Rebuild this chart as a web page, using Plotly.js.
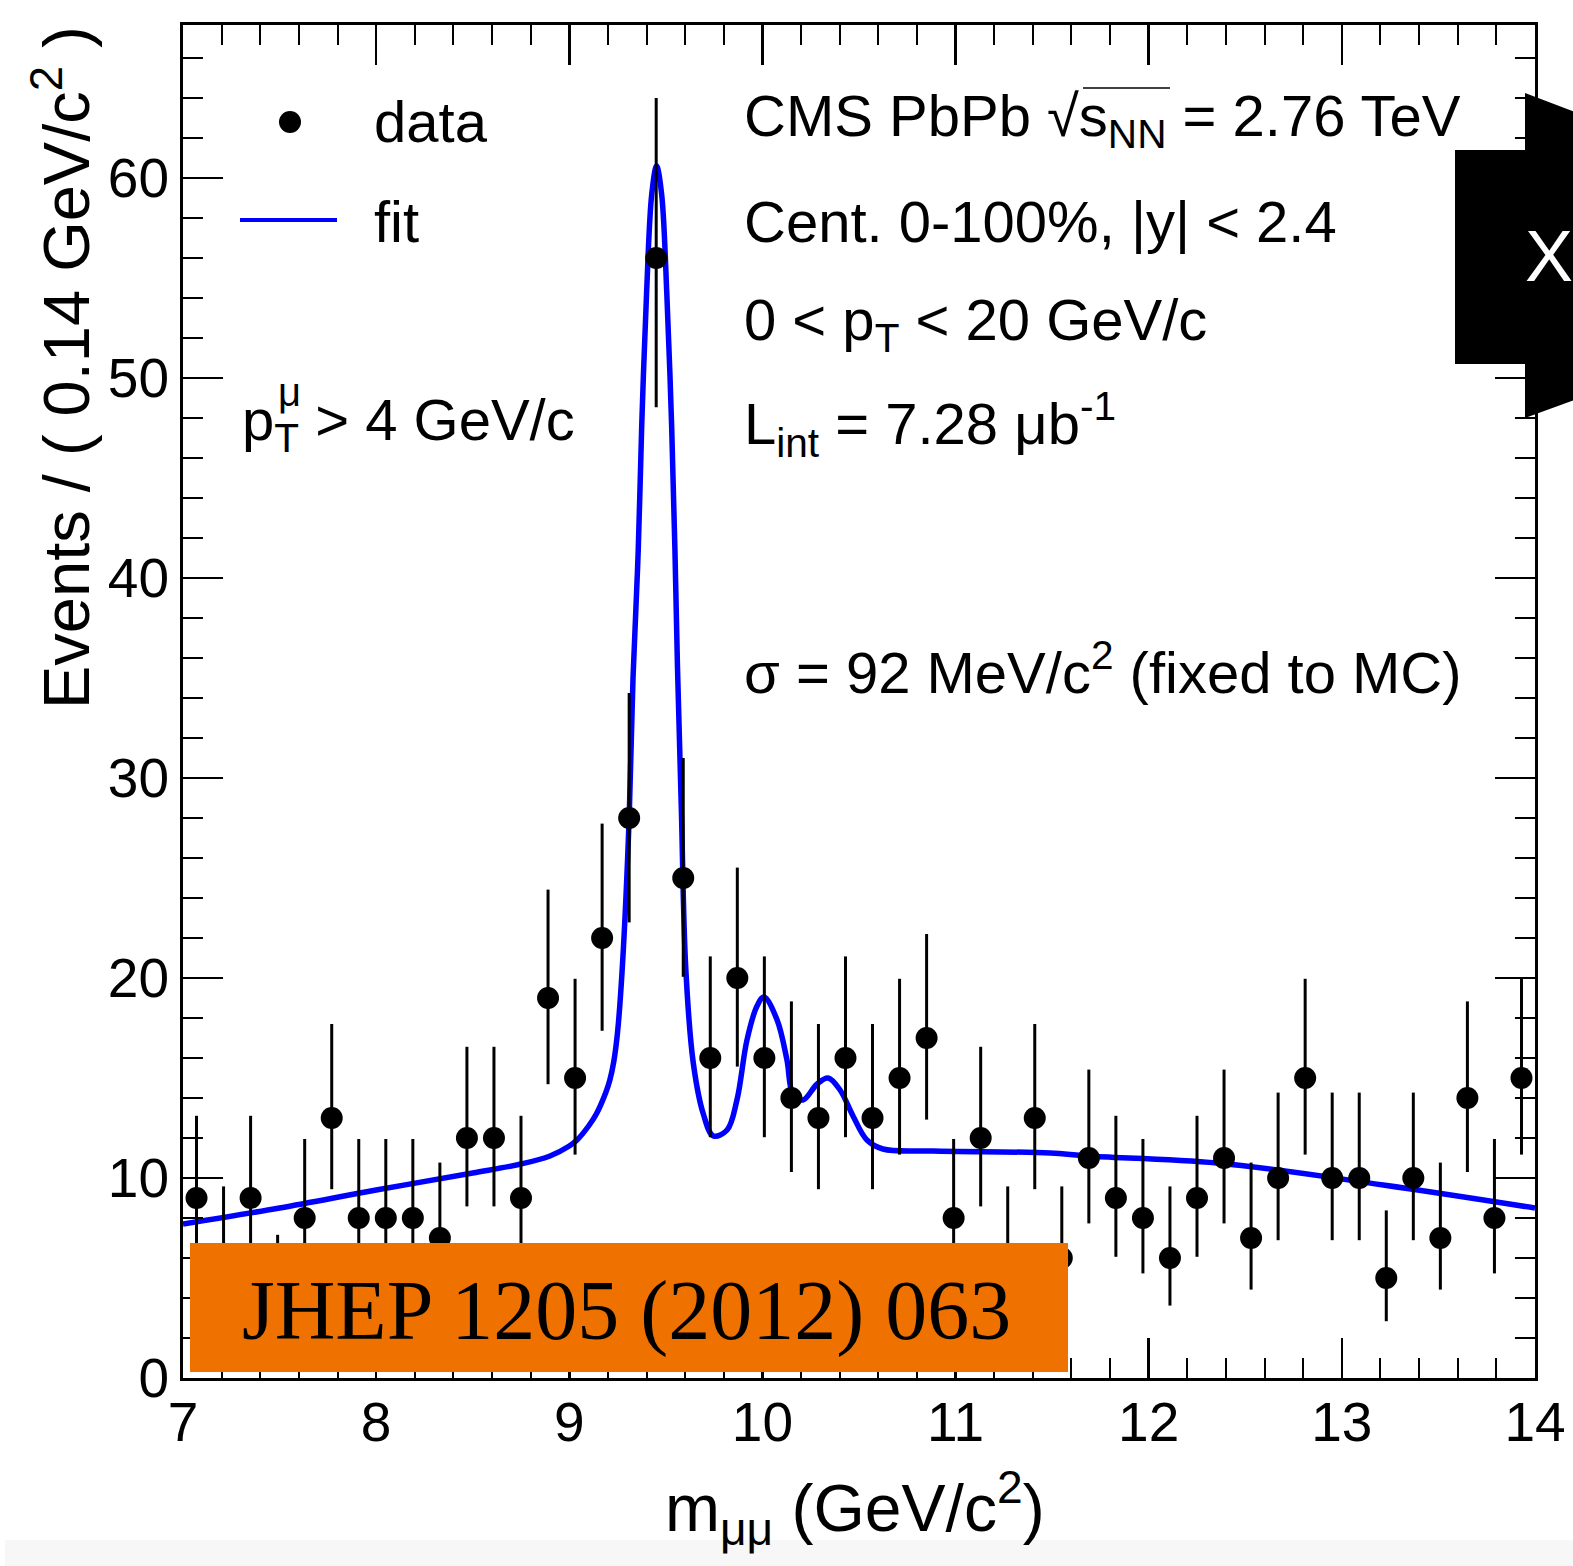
<!DOCTYPE html>
<html>
<head>
<meta charset="utf-8">
<script src="https://cdn.plot.ly/plotly-3.0.1.min.js"></script>
<style>html,body{margin:0;padding:0;background:#fff;}#chart{width:1573px;height:1566px;}</style>
</head>
<body>
<div id="chart"></div>
<script>
// ---- data ----
const binCenters = [7.07,7.21,7.35,7.49,7.63,7.77,7.91,8.05,8.19,8.33,
                    8.47,8.61,8.75,8.89,9.03,9.17,9.31,9.45,9.59,9.73,
                    9.87,10.01,10.15,10.29,10.43,10.57,10.71,10.85,10.99,11.13,
                    11.27,11.41,11.55,11.69,11.83,11.97,12.11,12.25,12.39,12.53,
                    12.67,12.81,12.95,13.09,13.23,13.37,13.51,13.65,13.79,13.93];
const counts = [9,6,9,4,8,13,8,8,8,7,
                12,12,9,19,15,22,28,56,25,16,
                20,16,14,13,16,13,15,17,8,12,
                6,13,6,11,9,8,6,9,11,7,
                10,15,10,10,5,10,7,14,8,15];
const errHigh = [4.11,3.58,4.11,3.16,3.95,4.70,3.95,3.95,3.95,3.77,
                 4.56,4.56,4.11,5.42,4.96,5.72,6.25,8.00,6.00,5.08,
                 5.52,5.08,4.83,4.70,5.08,4.70,4.96,5.20,3.95,4.56,
                 3.58,4.70,3.58,4.42,4.11,3.95,3.58,4.11,4.42,3.77,
                 4.27,4.96,4.27,4.27,3.38,4.27,3.77,4.83,3.95,4.96];
const errLow = [2.94,2.38,2.94,1.91,2.77,3.56,2.77,2.77,2.77,2.58,
                3.42,3.42,2.94,4.31,3.83,4.64,5.22,7.46,4.94,3.96,
                4.43,3.96,3.70,3.56,3.96,3.56,3.83,4.08,2.77,3.42,
                2.38,3.56,2.38,3.27,2.94,2.77,2.38,2.94,3.27,2.58,
                3.11,3.83,3.11,3.11,2.16,3.11,2.58,3.70,2.77,3.83];
const fitMass = [7.00,7.50,8.00,8.50,8.75,8.90,9.00,9.04,9.10,9.14,
                 9.19,9.21,9.23,9.25,9.275,9.31,9.33,9.357,9.375,9.40,
                 9.427,9.452,9.478,9.505,9.53,9.547,9.56,9.58,9.603,9.642,
                 9.694,9.746,9.817,9.868,9.92,9.972,10.008,10.076,10.127,10.158,
                 10.21,10.283,10.34,10.402,10.469,10.541,10.624,10.883,11.489,11.68,
                 12.354,13.214,14.00];
const fitValue = [7.7,8.5,9.4,10.25,10.7,11.1,11.6,11.9,12.6,13.2,
                  14.3,14.9,15.8,17.3,20.6,28.0,35.0,41.4,47.6,54.2,
                  59.2,60.6,59.2,54.2,47.6,41.4,35.6,28.5,20.5,15.75,
                  13.2,12.1,12.4,13.9,16.9,18.6,19.05,17.9,15.9,14.2,
                  13.9,14.7,15.0,14.4,13.1,11.9,11.45,11.35,11.25,11.1,
                  10.75,9.65,8.5];
const xTickVals = [7,8,9,10,11,12,13,14];
const yTickVals = [0,10,20,30,40,50,60];

// ---- geometry helpers (page pixels -> paper) ----
const L = 183, R = 1535, T = 25, B = 1378;
const px = x => (x - L) / (R - L);
const py = y => (B - y) / (B - T);
const FONT = 'Liberation Sans, Arial, Helvetica, sans-serif';

const fit = {
  x: fitMass, y: fitValue, type: 'scatter', mode: 'lines', name: 'fit',
  line: {color: '#0000ff', width: 5.5, shape: 'spline', smoothing: 1},
  hoverinfo: 'skip', showlegend: false
};
const data = {
  x: binCenters, y: counts, type: 'scatter', mode: 'markers', name: 'data',
  marker: {color: 'black', size: 22},
  error_y: {type: 'data', symmetric: false, array: errHigh, arrayminus: errLow,
            thickness: 3, width: 0, color: 'black'},
  showlegend: false
};

function txt(x, y, text, size, extra) {
  return Object.assign({xref: 'paper', yref: 'paper', x: px(x), y: py(y), text: text,
    showarrow: false, xanchor: 'left', yanchor: 'middle',
    font: {family: FONT, size: size, color: 'black'}}, extra || {});
}

const annotations = [
  txt(372, 122, 'data', 58),
  txt(372, 221, 'fit', 58),
  txt(240, 424, 'p<sub>T</sub> > 4 GeV/c', 58),
  txt(276, 392, 'μ', 40),
  txt(742, 120, 'CMS PbPb √s<sub>NN</sub> = 2.76 TeV', 58),
  txt(742, 221, 'Cent. 0-100%, |y| < 2.4', 58),
  txt(742, 324, '0 < p<sub>T</sub> < 20 GeV/c', 58),
  txt(742, 424, 'L<sub>int</sub> = 7.28 μb<sup>-1</sup>', 58),
  txt(742, 668, 'σ = 92 MeV/c<sup>2</sup> (fixed to MC)', 58),
  txt(240, 1311, 'JHEP 1205 (2012) 063', 84, {font: {family: 'Liberation Serif, Times New Roman, serif', size: 84, color: 'black'}}),
  txt(1549, 256, 'X', 72, {xanchor: 'center', font: {family: FONT, size: 72, color: 'white'}}),
  txt(1047, 1508, 'm<sub>μμ</sub> (GeV/c<sup>2</sup>)', 66, {xanchor: 'right'}),
  txt(62, 368, 'Events / ( 0.14 GeV/c<sup>2</sup> )', 65, {xanchor: 'center', textangle: -90})
];

const shapes = [
  {type: 'rect', xref: 'paper', yref: 'paper', x0: px(5), x1: px(1573), y0: py(1566), y1: py(1540),
   fillcolor: '#f7f7f7', line: {width: 0}, layer: 'below'},
  // legend symbols
  {type: 'circle', xref: 'paper', yref: 'paper', x0: px(279), x1: px(301), y0: py(133), y1: py(111),
   fillcolor: 'black', line: {width: 0}},
  {type: 'line', xref: 'paper', yref: 'paper', x0: px(240), x1: px(337), y0: py(220), y1: py(220),
   line: {color: '#0000ff', width: 4}},
  // sqrt overline
  {type: 'line', xref: 'paper', yref: 'paper', x0: px(1083), x1: px(1170), y0: py(88), y1: py(88),
   line: {color: 'black', width: 1.5}},
  // orange publication box
  {type: 'rect', xref: 'paper', yref: 'paper', x0: px(190), x1: px(1068), y0: py(1372), y1: py(1243),
   fillcolor: '#ef7100', line: {width: 0}, layer: 'above'},
  // black overlay at right edge
  {type: 'rect', xref: 'paper', yref: 'paper', x0: px(1455), x1: px(1580), y0: py(364), y1: py(150),
   fillcolor: 'black', line: {width: 0}, layer: 'above'},
  {type: 'path', xref: 'paper', yref: 'paper',
   path: 'M ' + px(1525) + ',' + py(93) + ' L ' + px(1580) + ',' + py(114) + ' L ' + px(1580) + ',' + py(398) +
         ' L ' + px(1525) + ',' + py(418) + ' Z',
   fillcolor: 'black', line: {width: 0}, layer: 'above'}
];

const axisCommon = {
  showline: true, linecolor: 'black', linewidth: 3, mirror: 'ticks',
  ticks: 'inside', ticklen: 40, tickwidth: 2.5, tickcolor: 'black',
  showgrid: false, zeroline: false, fixedrange: true,
  tickfont: {family: FONT, size: 55, color: 'black'}
};

const layout = {
  width: 1573, height: 1566,
  margin: {l: L, r: 1573 - R, t: T, b: 1566 - B},
  paper_bgcolor: 'white', plot_bgcolor: 'white',
  showlegend: false,
  xaxis: Object.assign({}, axisCommon, {
    range: [7, 14], tickvals: xTickVals, ticktext: xTickVals.map(String),
    ticklabelstandoff: -6,
    minor: {dtick: 0.2, ticklen: 20, tickwidth: 2, tickcolor: 'black', ticks: 'inside', showgrid: false}
  }),
  yaxis: Object.assign({}, axisCommon, {
    range: [0, 67.65], tickvals: yTickVals, ticktext: yTickVals.map(String),
    minor: {dtick: 2, ticklen: 20, tickwidth: 2, tickcolor: 'black', ticks: 'inside', showgrid: false}
  }),
  annotations: annotations,
  shapes: shapes
};

Plotly.newPlot('chart', [fit, data], layout, {staticPlot: true, displayModeBar: false});
</script>
</body>
</html>
